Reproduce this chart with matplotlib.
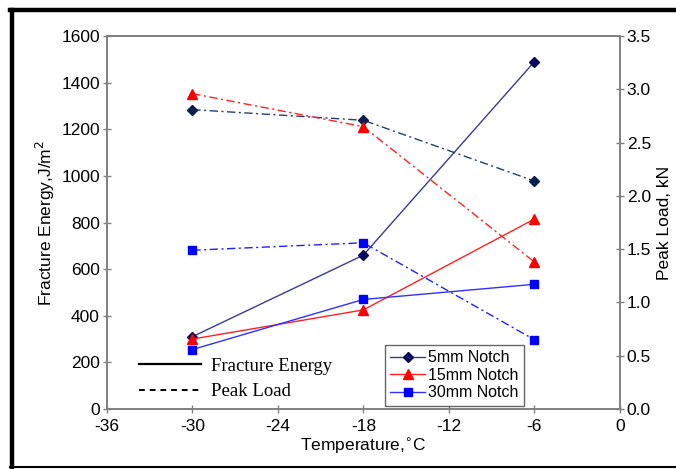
import matplotlib
matplotlib.use('Agg')
import matplotlib.pyplot as plt
from matplotlib.lines import Line2D
from matplotlib.ticker import FormatStrFormatter

# temperatures (C)
temps = [-30, -18, -6]

# fracture energy, J/m^2 (left axis)
fe_5mm = [310, 660, 1490]
fe_15mm = [300, 425, 815]
fe_30mm = [255, 470, 535]

# peak load, kN (right axis)
pl_5mm = [2.81, 2.71, 2.14]
pl_15mm = [2.96, 2.65, 1.38]
pl_30mm = [1.49, 1.56, 0.65]

notch_labels = ['5mm Notch', '15mm Notch', '30mm Notch']

plt.rcParams['font.family'] = ['Liberation Sans', 'DejaVu Sans']
plt.rcParams['axes.unicode_minus'] = False
spine_gray = '#808080'

fig = plt.figure(figsize=(6.76, 4.69), dpi=100)
ax = fig.add_axes([0.158, 0.128, 0.759, 0.795])
ax2 = ax.twinx()

dashdot = (0, (6, 2.5, 1.5, 2.5))

# fracture energy (solid)
ax.plot(temps, fe_5mm, color='#3a3a9a', lw=1.0, marker='D', ms=5,
        mfc='#0a0a5a', mec='#0a0a5a')
ax.plot(temps, fe_15mm, color='#ff2020', lw=1.0, marker='^', ms=7,
        mfc='red', mec='red')
ax.plot(temps, fe_30mm, color='#3030ff', lw=1.0, marker='s', ms=6,
        mfc='#0000ff', mec='#0000ff')

# peak load (dash-dot)
ax2.plot(temps, pl_5mm, color='#1f4070', lw=1.0, ls=dashdot, marker='D', ms=5,
         mfc='#0a2050', mec='#0a2050')
ax2.plot(temps, pl_15mm, color='#ff2020', lw=1.0, ls=dashdot, marker='^', ms=7,
         mfc='red', mec='red')
ax2.plot(temps, pl_30mm, color='#2020ff', lw=1.0, ls=dashdot, marker='s', ms=6,
         mfc='#0000ff', mec='#0000ff')

ax.set_xlim(-36, 0)
ax.set_xticks(range(-36, 1, 6))
ax.set_ylim(0, 1600)
ax.set_yticks(range(0, 1601, 200))
ax2.set_ylim(0, 3.5)
ax2.set_yticks([0, 0.5, 1.0, 1.5, 2.0, 2.5, 3.0, 3.5])
ax2.yaxis.set_major_formatter(FormatStrFormatter('%.1f'))

for a in (ax, ax2):
    for s in a.spines.values():
        s.set_color(spine_gray)
        s.set_linewidth(1.2)
    a.tick_params(direction='inout', length=6, width=1.0, color=spine_gray,
                  labelsize=12.5, pad=2)
ax.tick_params(axis='x', pad=4)

ax.set_xlabel('Temperature,$^{\\circ}$C', fontsize=12.5, labelpad=2)
ax.set_ylabel('Fracture Energy,J/m$^2$', fontsize=12.5, labelpad=3)
ax2.set_ylabel('Peak Load, kN', fontsize=12.5, labelpad=4)

# legend for notch sizes
notch_handles = [
    Line2D([], [], color='#3a3a9a', lw=1.0, marker='D', ms=5, mfc='#0a0a5a', mec='#0a0a5a'),
    Line2D([], [], color='#ff2020', lw=1.0, marker='^', ms=7, mfc='red', mec='red'),
    Line2D([], [], color='#3030ff', lw=1.0, marker='s', ms=6, mfc='#0000ff', mec='#0000ff'),
]
leg1 = ax2.legend(notch_handles, notch_labels, loc='lower left',
                  bbox_to_anchor=(0.535, 0.0), fontsize=11.5, frameon=True,
                  fancybox=False, edgecolor='#404040', handlelength=2.2,
                  handletextpad=0.2, borderpad=0.35, labelspacing=0.15,
                  borderaxespad=0.2)
leg1.get_frame().set_linewidth(1.0)
ax2.add_artist(leg1)

# legend for line styles
style_handles = [
    Line2D([], [], color='black', lw=1.6),
    Line2D([], [], color='black', lw=1.4, ls=(0, (3, 2.5))),
]
ax2.legend(style_handles, ['Fracture Energy', 'Peak Load'], loc='lower left',
           bbox_to_anchor=(0.03, -0.022), frameon=False, handlelength=3.3,
           handletextpad=0.55, labelspacing=0.45,
           prop={'family': ['Liberation Serif', 'DejaVu Serif'], 'size': 13.5})

# black frame around figure (left, top, bottom)
frame_kw = dict(color='black', lw=3.2, transform=fig.transFigure, clip_on=False)
fig.add_artist(Line2D([12 / 676, 12 / 676], [2 / 469, 459 / 469], **frame_kw))
fig.add_artist(Line2D([10 / 676, 1.0], [459 / 469, 459 / 469], **frame_kw))
fig.add_artist(Line2D([10 / 676, 1.0], [2 / 469, 2 / 469], lw=1.5, color='black',
                      transform=fig.transFigure, clip_on=False))

fig.savefig('out.png', dpi=100)
